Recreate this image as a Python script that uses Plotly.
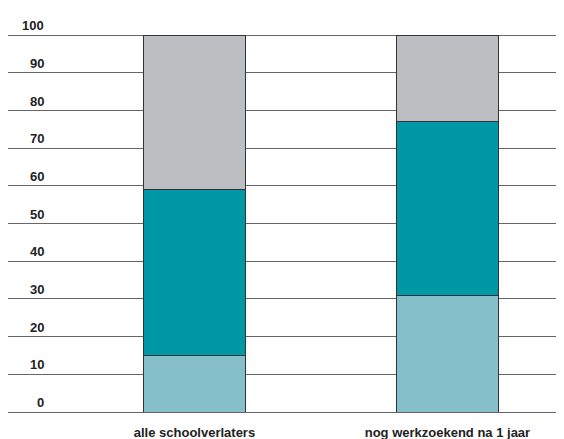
import plotly.graph_objects as go

# Data
categories = ["alle schoolverlaters", "nog werkzoekend na 1 jaar"]
bottom_values = [15, 31]
middle_values = [44, 46]
top_values = [41, 23]
tick_values = [0, 10, 20, 30, 40, 50, 60, 70, 80, 90, 100]

font_name = "Liberation Sans, Arial, sans-serif"
edge = dict(color="#333333", width=1)

fig = go.Figure()
fig.add_trace(go.Bar(x=categories, y=bottom_values, marker=dict(color="#85BFC9", line=edge), width=0.4))
fig.add_trace(go.Bar(x=categories, y=middle_values, marker=dict(color="#0097A6", line=edge), width=0.4))
fig.add_trace(go.Bar(x=categories, y=top_values, marker=dict(color="#BDBEC2", line=edge), width=0.4))

# y labels sit just above each gridline, right-aligned
for v in tick_values:
    fig.add_annotation(x=0, xref="paper", xshift=38, y=v, yref="y",
                       text="<b>%d</b>" % v, showarrow=False,
                       xanchor="right", yanchor="bottom", yshift=0,
                       font=dict(family=font_name, size=13, color="#222222"))

# the page adds an 8px body margin, so the figure is sized to fit the window
fig.update_layout(
    barmode="stack",
    width=556, height=431,
    margin=dict(l=0, r=4, t=26, b=27),
    paper_bgcolor="white", plot_bgcolor="white",
    showlegend=False,
    font=dict(family=font_name, size=13, color="#222222"),
    xaxis=dict(range=[-0.737, 1.445], showgrid=False, showline=False,
               ticks="", tickfont=dict(family=font_name, size=13),
               tickvals=categories, ticktext=["<b>%s</b>" % c for c in categories],
               ticklabelstandoff=11, automargin=False),
    yaxis=dict(range=[0, 100.3], tickvals=tick_values, showticklabels=False,
               showgrid=True, gridcolor="#666666", gridwidth=1,
               zeroline=True, zerolinecolor="#666666", zerolinewidth=1,
               showline=False, automargin=False),
)

fig.write_html("out.html")
